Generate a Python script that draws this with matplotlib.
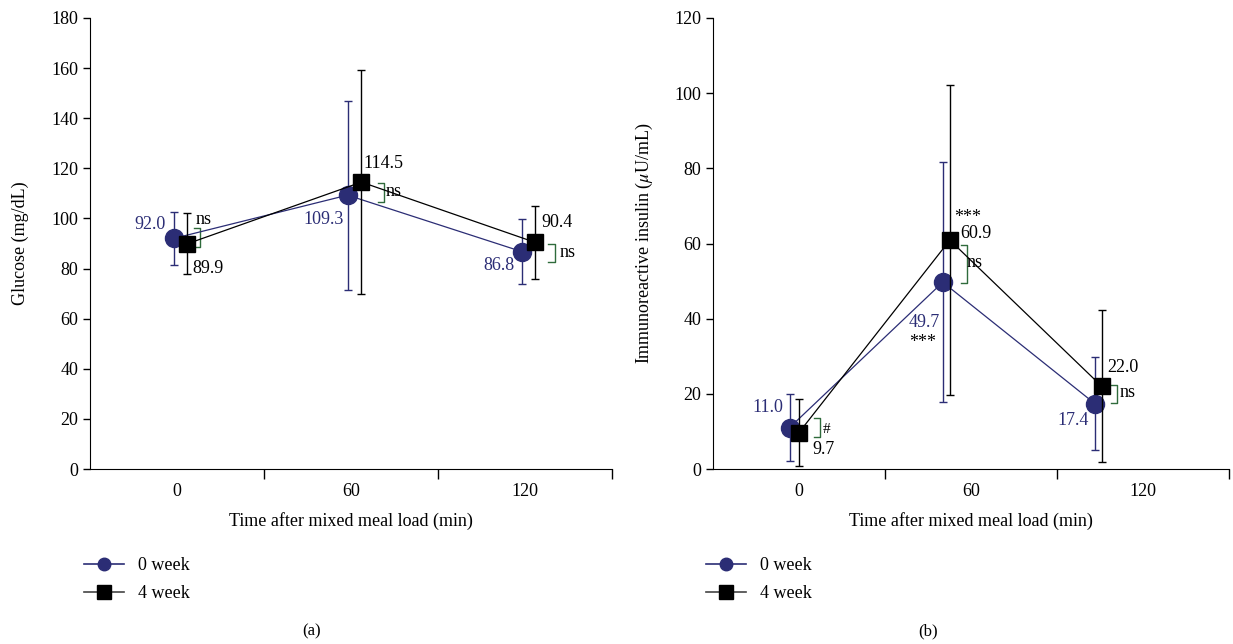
import numpy as np
import matplotlib
matplotlib.use("Agg")
import matplotlib.pyplot as plt
from matplotlib.lines import Line2D

plt.rcParams['font.family'] = ['Liberation Serif', 'DejaVu Serif']
plt.rcParams['mathtext.fontset'] = 'stix'

# --- data ---
times = ["0", "60", "120"]

glu_w0 = [92.0, 109.3, 86.8]
glu_w0_err = [10.6, 37.7, 13.0]
glu_w4 = [89.9, 114.5, 90.4]
glu_w4_err = [12.2, 44.7, 14.4]
glu_sig = ["ns", "ns", "ns"]

ins_w0 = [11.0, 49.7, 17.4]
ins_w0_err = [9.0, 32.0, 12.4]
ins_w4 = [9.7, 60.9, 22.0]
ins_w4_err = [9.0, 41.3, 20.2]
ins_sig = ["#", "ns", "ns"]

NAVY = '#2b2d75'
GREEN = '#2f6b3c'
FS = 13

fig = plt.figure(figsize=(12.33, 6.44), dpi=100)
W, H = 1233, 644


def px_axes(x0, x1, y0, y1):
    return fig.add_axes([x0 / W, 1 - y1 / H, (x1 - x0) / W, (y1 - y0) / H])


def style_axes(ax, ymax, ystep, ylabel, ypad):
    ax.spines['top'].set_visible(False)
    ax.spines['right'].set_visible(False)
    ax.set_xlim(-0.5, 2.5)
    ax.set_ylim(0, ymax)
    ax.set_yticks(np.arange(0, ymax + 1, ystep))
    ax.set_xticks([0.5, 1.5, 2.5])
    ax.set_xticklabels([])
    ax.set_xticks([0, 1, 2], minor=True)
    ax.set_xticklabels(times, minor=True)
    ax.tick_params(axis='x', which='major', direction='out', length=7, width=1)
    ax.tick_params(axis='x', which='minor', length=0, pad=10, labelsize=FS)
    ax.tick_params(axis='y', direction='out', length=5, width=1, labelsize=FS)
    ax.set_xlabel("Time after mixed meal load (min)", fontsize=FS, labelpad=9)
    ax.set_ylabel(ylabel, fontsize=FS, labelpad=ypad)


def bracket(ax, x, y_lo, y_hi, w=0.035):
    ax.plot([x - w, x, x, x - w], [y_hi, y_hi, y_lo, y_lo], color=GREEN, lw=1)


def draw_series(ax, xs0, xs4, w0, e0, w4, e4):
    ax.errorbar(xs0, w0, yerr=e0, color=NAVY, lw=0.9, marker='o', ms=13,
                mfc=NAVY, mec=NAVY, capsize=3, elinewidth=1, capthick=1, zorder=3)
    ax.errorbar(xs4, w4, yerr=e4, color='black', lw=0.9, marker='s', ms=11,
                mfc='black', mec='black', capsize=3, elinewidth=1, capthick=1, zorder=4)


# --- (a) glucose ---
ax1 = px_axes(90, 612, 18, 469)
style_axes(ax1, 180, 20, "Glucose (mg/dL)", 16)
gx0 = np.array([0, 1, 2]) - 0.02
gx4 = np.array([0, 1, 2]) + 0.06
draw_series(ax1, gx0, gx4, glu_w0, glu_w0_err, glu_w4, glu_w4_err)

ax1.text(-0.063, 97.4, f"{glu_w0[0]:.1f}", color=NAVY, ha='right', va='center', fontsize=FS)
ax1.text(0.086, 80.2, f"{glu_w4[0]:.1f}", color='black', ha='left', va='center', fontsize=FS)
ax1.text(0.96, 99.4, f"{glu_w0[1]:.1f}", color=NAVY, ha='right', va='center', fontsize=FS)
ax1.text(1.069, 122.0, f"{glu_w4[1]:.1f}", color='black', ha='left', va='center', fontsize=FS)
ax1.text(1.937, 81.3, f"{glu_w0[2]:.1f}", color=NAVY, ha='right', va='center', fontsize=FS)
ax1.text(2.092, 98.4, f"{glu_w4[2]:.1f}", color='black', ha='left', va='center', fontsize=FS)

bracket(ax1, 0.135, 88.8, 96.0)
ax1.text(0.105, 99.6, glu_sig[0], ha='left', va='center', fontsize=FS)
bracket(ax1, 1.19, 106.7, 114.3)
ax1.text(1.20, 110.7, glu_sig[1], ha='left', va='center', fontsize=FS)
bracket(ax1, 2.17, 82.6, 89.7)
ax1.text(2.20, 86.6, glu_sig[2], ha='left', va='center', fontsize=FS)

# --- (b) insulin ---
ax2 = px_axes(713, 1229, 18, 469)
style_axes(ax2, 120, 20, r"Immunoreactive insulin ($\mu$U/mL)", 14)
ix0 = np.array([-0.055, 0.836, 1.72])
ix4 = np.array([0.0, 0.877, 1.76])
draw_series(ax2, ix0, ix4, ins_w0, ins_w0_err, ins_w4, ins_w4_err)

ax2.text(-0.089, 16.4, f"{ins_w0[0]:.1f}", color=NAVY, ha='right', va='center', fontsize=FS)
ax2.text(0.08, 5.1, f"{ins_w4[0]:.1f}", color='black', ha='left', va='center', fontsize=FS)
ax2.text(0.819, 39.1, f"{ins_w0[1]:.1f}", color=NAVY, ha='right', va='center', fontsize=FS)
ax2.text(0.796, 33.6, "***", color='black', ha='right', va='center', fontsize=FS)
ax2.text(0.936, 62.6, f"{ins_w4[1]:.1f}", color='black', ha='left', va='center', fontsize=FS)
ax2.text(0.90, 66.8, "***", color='black', ha='left', va='center', fontsize=FS)
ax2.text(1.687, 12.8, f"{ins_w0[2]:.1f}", color=NAVY, ha='right', va='center', fontsize=FS)
ax2.text(1.79, 27.0, f"{ins_w4[2]:.1f}", color='black', ha='left', va='center', fontsize=FS)

bracket(ax2, 0.12, 8.6, 13.5)
ax2.text(0.14, 10.6, ins_sig[0], ha='left', va='center', fontsize=FS - 2)
bracket(ax2, 0.976, 49.5, 59.6)
ax2.text(0.976, 54.9, ins_sig[1], ha='left', va='center', fontsize=FS)
bracket(ax2, 1.85, 17.5, 22.4)
ax2.text(1.865, 20.3, ins_sig[2], ha='left', va='center', fontsize=FS)

# --- legends ---
handles = [
    Line2D([], [], color=NAVY, lw=1.2, marker='o', ms=9, mfc=NAVY, mec=NAVY),
    Line2D([], [], color='#444444', lw=1.2, marker='s', ms=10, mfc='black', mec='black'),
]
labels = ["0 week", "4 week"]
for x0 in (84, 706):
    fig.legend(handles, labels, loc='upper left', bbox_to_anchor=(x0 / W, 1 - 557 / H),
               frameon=False, fontsize=FS, handlelength=2.2, handletextpad=0.8,
               labelspacing=0.6, borderaxespad=0, borderpad=0)

fig.text(312 / W, 1 - 631 / H, "(a)", ha='center', va='center', fontsize=FS - 1)
fig.text(928 / W, 1 - 631 / H, "(b)", ha='center', va='center', fontsize=FS - 1)

fig.savefig("out.png", dpi=100)
